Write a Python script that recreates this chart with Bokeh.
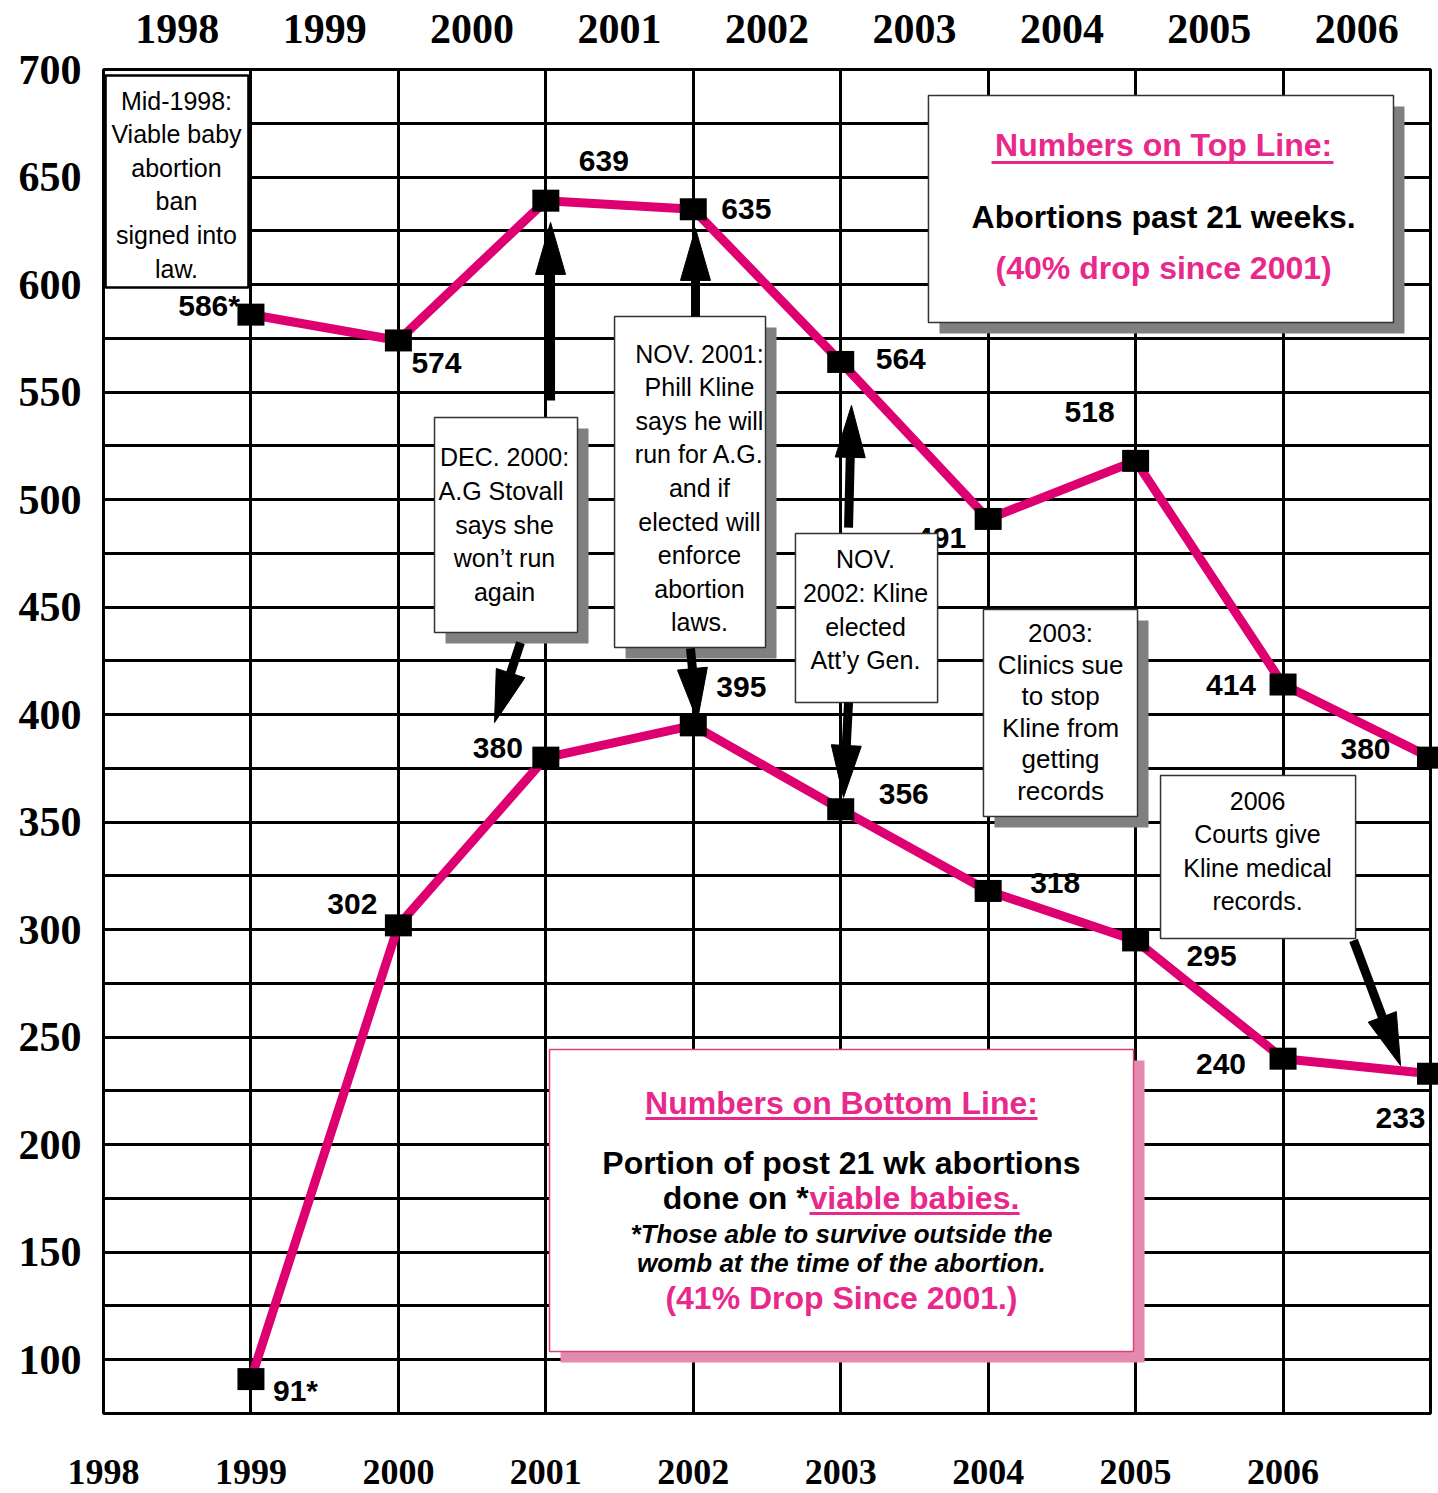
import math
from bokeh.plotting import figure
from bokeh.models import FixedTicker, Range1d, ColumnDataSource
from bokeh.embed import file_html
from bokeh.resources import INLINE
from bokeh.core.properties import value, field

# ---------------- data ----------------
slots = [1, 2, 3, 4, 5, 6, 7, 8, 9]
top_values = [586, 574, 639, 635, 564, 491, 518, 414, 380]
top_texts = ["586*", "574", "639", "635", "564", "491", "518", "414", "380"]
bottom_values = [91, 302, 380, 395, 356, 318, 295, 240, 233]
bottom_texts = ["91*", "302", "380", "395", "356", "318", "295", "240", "233"]
years = ["1998", "1999", "2000", "2001", "2002", "2003", "2004", "2005", "2006"]
y_tick_values = [100, 150, 200, 250, 300, 350, 400, 450, 500, 550, 600, 650, 700]

# ---------------- layout / style ----------------
W, H = 1438, 1493
ML, MR, MT, MB = 103, 8, 69, 80
FW, FH = W - ML - MR, H - MT - MB
X0, X1 = 0, 9
Y0, Y1 = 75, 700
PX_X = FW / (X1 - X0)
PX_Y = FH / (Y1 - Y0)

MAGENTA = "#DE0070"
PINK = "#E8288A"
PINK_SHADOW = "#E38BAE"
PINK_EDGE = "#E0407F"
GRAY = "#808080"
SERIF = "Liberation Serif"
SANS = "Liberation Sans"


def ddx(px):
    return px / PX_X


def ddy(px):
    return px / PX_Y


p = figure(width=W, height=H, x_range=Range1d(X0, X1), y_range=Range1d(Y0, Y1),
           output_backend="svg", toolbar_location=None, x_axis_location="above",
           min_border_left=ML, min_border_right=MR, min_border_top=MT, min_border_bottom=MB)
p.background_fill_color = "white"
p.border_fill_color = "white"
p.outline_line_color = "black"
p.outline_line_width = 3

# top axis (years centred between grid lines)
top_ticks = [i + 0.5 for i in range(len(years))]
p.xaxis.ticker = FixedTicker(ticks=top_ticks)
p.xaxis.major_label_overrides = {t: y for t, y in zip(top_ticks, years)}
p.xaxis.major_label_text_font = SERIF
p.xaxis.major_label_text_font_style = "bold"
p.xaxis.major_label_text_font_size = "42px"
p.xaxis.major_label_text_color = "black"
p.xaxis.major_label_standoff = 21
p.xaxis.axis_line_color = None
p.xaxis.major_tick_line_color = None
p.xaxis.minor_tick_line_color = None

# left axis
p.yaxis.ticker = FixedTicker(ticks=y_tick_values)
p.yaxis.major_label_text_font = SERIF
p.yaxis.major_label_text_font_style = "bold"
p.yaxis.major_label_text_font_size = "42px"
p.yaxis.major_label_text_color = "black"
p.yaxis.major_label_standoff = 16
p.yaxis.axis_line_color = None
p.yaxis.major_tick_line_color = None
p.yaxis.minor_tick_line_color = None

# grid
p.xgrid.ticker = FixedTicker(ticks=list(range(X0, X1 + 1)))
p.ygrid.ticker = FixedTicker(ticks=list(range(Y0, Y1 + 1, 25)))
for g in (p.xgrid, p.ygrid):
    g.grid_line_color = "black"
    g.grid_line_width = 3
    g.grid_line_alpha = 1.0

# bottom year labels (at grid lines, below the frame)
p.text(x=list(range(len(years))), y=[Y0 - ddy(58)] * len(years), text=years,
       text_font=value(SERIF), text_font_style="bold", text_font_size="36px",
       text_align="center", text_baseline="middle", text_color="black", level="overlay")

# ---------------- lines ----------------
p.line(slots, top_values, line_color=MAGENTA, line_width=9)
p.line(slots, bottom_values, line_color=MAGENTA, line_width=9)

# ---------------- value labels ----------------
top_dx = [-11, 13, 33, 28, 35, -22, -46, -27, -40]
top_dy = [-9, 23, -40, 0, -3, 19, -49, 0, -9]
top_align = ["right", "left", "left", "left", "left", "right", "center", "right", "right"]
bot_dx = [22, -21, -23, 23, 38, 42, 51, -37, -5]
bot_dy = [11, -21, -10, -38, -15, -8, 16, 5, 44]
bot_align = ["left", "right", "right", "left", "left", "left", "left", "right", "right"]

lab_src = ColumnDataSource(dict(
    x=[s + ddx(d) for s, d in zip(slots, top_dx)] + [s + ddx(d) for s, d in zip(slots, bot_dx)],
    y=[v - ddy(d) for v, d in zip(top_values, top_dy)] + [v - ddy(d) for v, d in zip(bottom_values, bot_dy)],
    text=top_texts + bottom_texts,
    align=top_align + bot_align,
))
p.text(x="x", y="y", text="text", source=lab_src, text_align=field("align"),
       text_baseline="middle", text_font=value(SANS), text_font_style="bold",
       text_font_size="30px", text_color="black")

# ---------------- annotation boxes ----------------
box_left = [0.014, 2.245, 3.466, 4.693, 5.968, 7.169, 5.595, 3.025]
box_right = [0.983, 3.215, 4.490, 5.657, 7.013, 8.492, 8.749, 6.986]
box_top = [697.2, 538.2, 585.1, 484.2, 448.9, 371.7, 687.9, 244.3]
box_bottom = [598.6, 438.2, 431.2, 405.6, 352.6, 295.9, 582.3, 103.8]
box_shadow = [None, GRAY, GRAY, None, GRAY, None, GRAY, PINK_SHADOW]
box_edge = ["black", "#333333", "#333333", "#333333", "#333333", "#333333", "#333333", PINK_EDGE]
box_edge_w = [2.5, 1.5, 1.5, 1.5, 1.5, 1.5, 1.5, 1.5]

sh = [i for i, c in enumerate(box_shadow) if c is not None]
p.quad(left=[box_left[i] + ddx(11) for i in sh], right=[box_right[i] + ddx(11) for i in sh],
       top=[box_top[i] - ddy(11) for i in sh], bottom=[box_bottom[i] - ddy(11) for i in sh],
       fill_color=[box_shadow[i] for i in sh], line_color=None)
p.quad(left=box_left, right=box_right, top=box_top, bottom=box_bottom,
       fill_color="white", line_color=box_edge, line_width=box_edge_w)

# multi-line notes
notes = [
    (0.495, 646.5, "Mid-1998:\nViable baby\nabortion\nban\nsigned into\nlaw.", "25px", 1.2),
    (2.72, 488.4, "DEC. 2000:\nA.G  Stovall\nsays she\nwon\u2019t run\nagain", "25px", 1.2),
    (4.042, 505.4, "NOV. 2001:\nPhill Kline\nsays he will\nrun for A.G.\nand if\nelected will\nenforce\nabortion\nlaws.", "25px", 1.2),
    (5.168, 448.7, "NOV.\n2002: Kline\nelected\nAtt\u2019y Gen.", "25px", 1.2),
    (6.491, 401.2, "2003:\nClinics sue\nto stop\nKline from\ngetting\nrecords", "26px", 1.05),
    (7.827, 336.6, "2006\nCourts give\nKline medical\nrecords.", "25px", 1.2),
]
for x, y, t, s, lh in notes:
    p.text(x=[x], y=[y], text=[t], text_font=value(SANS), text_font_size=s,
           text_align="center", text_baseline="middle", text_line_height=lh,
           text_color="black")

# legend-like boxes
info = [
    (7.19, 664.7, "Numbers on Top Line:", "bold", "32px", PINK, "center"),
    (7.19, 631.2, "Abortions past 21 weeks.", "bold", "32px", "black", "center"),
    (7.19, 607.9, "(40% drop since 2001)", "bold", "32px", PINK, "center"),
    (5.005, 219.2, "Numbers on Bottom Line:", "bold", "32px", PINK, "center"),
    (5.005, 191.7, "Portion of post 21 wk abortions", "bold", "32px", "black", "center"),
    (4.782, 175.0, "done on *", "bold", "32px", "black", "right"),
    (4.788, 175.0, "viable babies.", "bold", "32px", PINK, "left"),
    (5.005, 158.7, "*Those able to survive outside the", "bold italic", "26px", "black", "center"),
    (5.005, 144.8, "womb at the time of the abortion.", "bold italic", "26px", "black", "center"),
    (5.005, 128.9, "(41% Drop Since 2001.)", "bold", "32px", PINK, "center"),
]
for x, y, t, st, s, c, a in info:
    p.text(x=[x], y=[y], text=[t], text_font=value(SANS), text_font_style=st,
           text_font_size=s, text_color=c, text_align=a, text_baseline="middle")

# underlines
ul_x0 = [6.023, 3.676, 4.788]
ul_x1 = [8.342, 6.335, 6.213]
ul_y = [656.8, 212.2, 168.0]
p.segment(x0=ul_x0, y0=ul_y, x1=ul_x1, y1=ul_y, line_color=PINK, line_width=3)

# ---------------- arrows ----------------
arrows = [
    (3.032, 546.1, 3.032, 628.9),
    (4.015, 585.1, 4.015, 626.1),
    (2.828, 433.5, 2.652, 396.3),
    (3.981, 430.8, 4.028, 397.3),
    (5.053, 487.0, 5.073, 543.8),
    (5.053, 405.6, 5.019, 361.5),
    (8.478, 295.0, 8.797, 236.8),
]
HEAD_L, HEAD_W = 52, 30
sx0, sy0, sx1, sy1, hx, hy = [], [], [], [], [], []
for x0, y0, x1, y1 in arrows:
    vx, vy = (x1 - x0) * PX_X, (y1 - y0) * PX_Y
    n = math.hypot(vx, vy)
    ux, uy = vx / n, vy / n
    tx, ty = x1 * PX_X, y1 * PX_Y
    bx, by = tx - ux * HEAD_L, ty - uy * HEAD_L
    nx, ny = -uy, ux
    sx0.append(x0); sy0.append(y0)
    sx1.append(bx / PX_X); sy1.append(by / PX_Y)
    hx.append([tx / PX_X, (bx + nx * HEAD_W / 2) / PX_X, (bx - nx * HEAD_W / 2) / PX_X])
    hy.append([ty / PX_Y, (by + ny * HEAD_W / 2) / PX_Y, (by - ny * HEAD_W / 2) / PX_Y])
p.segment(x0=sx0, y0=sy0, x1=sx1, y1=sy1, line_color="black", line_width=9)
p.patches(xs=hx, ys=hy, fill_color="black", line_color="black", line_width=1)

# ---------------- markers ----------------
p.rect(x=slots + slots, y=top_values + bottom_values, width=27, height=22,
       width_units="screen", height_units="screen", fill_color="black", line_color=None,
       level="overlay")

open("out.html", "w").write(file_html(p, INLINE))
